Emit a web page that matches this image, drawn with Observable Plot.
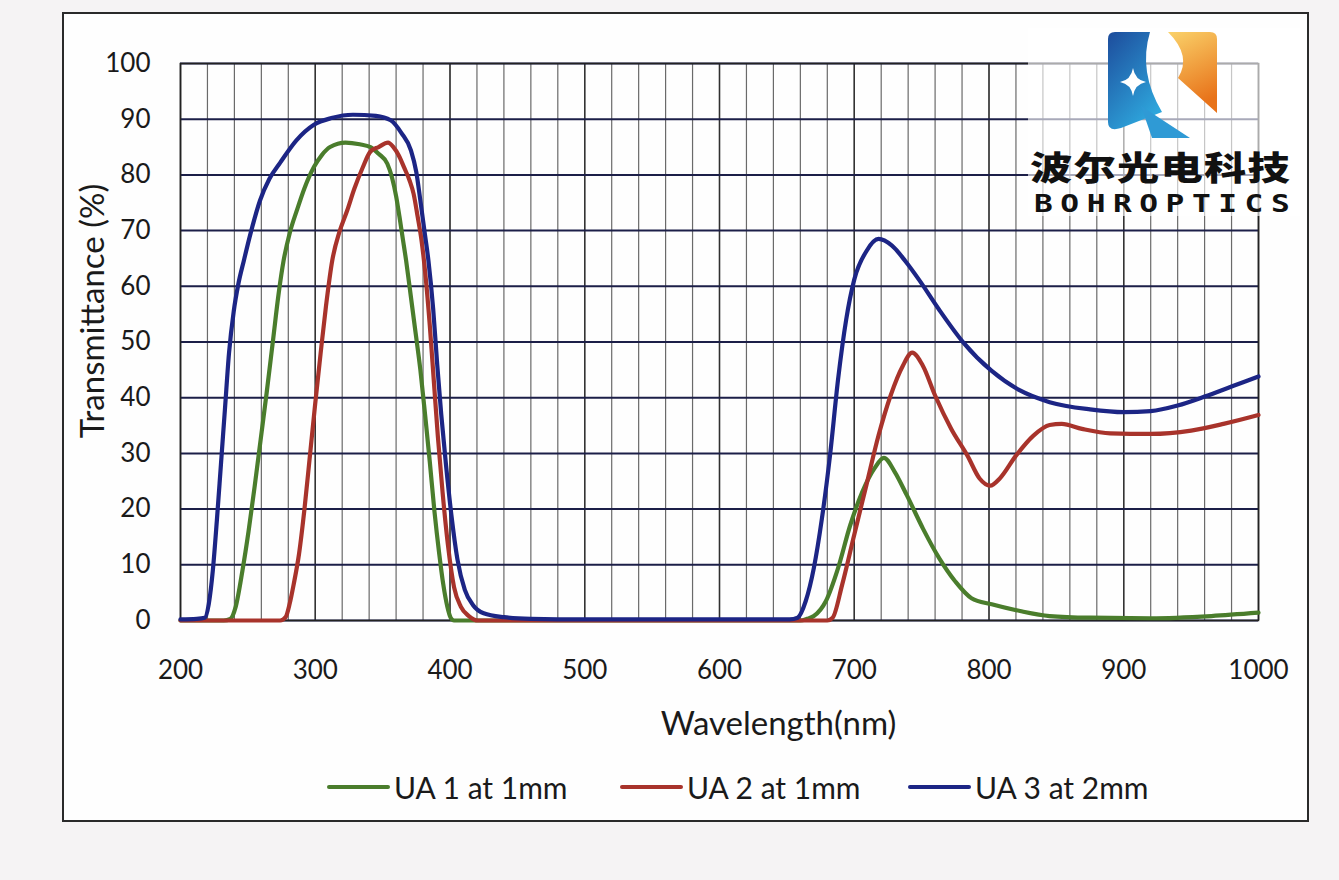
<!DOCTYPE html>
<html>
<head>
<meta charset="utf-8">
<script src="https://cdn.jsdelivr.net/npm/d3@7"></script>
<script src="https://cdn.jsdelivr.net/npm/@observablehq/plot@0.6"></script>
<style>
  html, body { margin: 0; padding: 0; }
  body { width: 1339px; height: 880px; background: #f5f3f4; position: relative; overflow: hidden; font-family: Lato, "Open Sans", sans-serif; }
  #frame { position: absolute; left: 62px; top: 12px; width: 1243px; height: 806px; border: 2px solid #2a2a2a; background: #fefefe; }
  #chart { position: absolute; left: 0; top: 0; }
  #legend { position: absolute; top: 767px; left: 0; width: 1339px; height: 40px; font-size: 30px; color: #1a1a1a; }
  .li { position: absolute; top: 0; display: flex; align-items: center; height: 40px; }
  .li span.sw { display: inline-block; width: 63px; height: 4px; border-radius: 2px; margin-right: 4px; }
  #logoBg { position: absolute; left: 1028px; top: 28px; width: 272px; height: 188px; background: rgba(255,255,255,0.62); }
  #logo { position: absolute; left: 1100px; top: 28px; }
  #cn { position: absolute; left: 1030px; top: 148px; font-family: "Noto Sans CJK SC"; font-weight: 900; font-size: 33px; letter-spacing: 1px; color: #111; line-height: 36px; transform: scale(1.28, 1); transform-origin: left top; white-space: nowrap; }
  #en { position: absolute; left: 1034px; top: 193px; font-family: "DejaVu Sans Mono"; font-weight: bold; font-size: 24px; letter-spacing: 5.8px; color: #111; line-height: 22px; transform: scale(1.3, 1); transform-origin: left top; white-space: nowrap; }
</style>
</head>
<body>
<div id="frame"></div>
<div id="chart"></div>
<div id="logoBg"></div>
<svg id="logo" width="125" height="120" viewBox="1100 28 125 120">
  <defs>
    <linearGradient id="gb" x1="0" y1="0" x2="0.6" y2="1">
      <stop offset="0" stop-color="#1d4c9c"/>
      <stop offset="1" stop-color="#2ea6dc"/>
    </linearGradient>
    <linearGradient id="go" x1="0" y1="0" x2="0.3" y2="1">
      <stop offset="0" stop-color="#fad26a"/>
      <stop offset="1" stop-color="#e8731a"/>
    </linearGradient>
  </defs>
  <path d="M1108,39 Q1108,32 1115,32 L1150,32 Q1138,72 1162,112 L1121,128 Q1108,132 1108,122 Z" fill="url(#gb)"/>
  <path d="M1133,68 Q1135,80 1146,82 Q1135,84 1133,96 Q1131,84 1120,82 Q1131,80 1133,68 Z" fill="#ffffff"/>
  <path d="M1141,106 L1190,138 L1152,138 Z" fill="#2f9ad5"/>
  <path d="M1168,32 L1210,32 Q1217,32 1217,39 L1217,113 L1178,78 Q1192,56 1168,32 Z" fill="url(#go)"/>
</svg>
<div id="cn">波尔光电科技</div>
<div id="en">BOHROPTICS</div>
<div id="legend"></div>
<script>
// ---- data ----
const ua1Nm = [200, 232, 237, 241, 246, 250.5, 255, 259.5, 264, 268.5, 273, 276.5, 281, 286.6, 292, 299, 305, 311, 322.5, 333, 341, 347, 353.5, 357, 360, 362.5, 365, 367.5, 370.5, 374, 378, 381.5, 385, 388.5, 392, 395, 398, 400.5, 403, 420, 500, 600, 660, 665, 670, 679, 688, 697, 706, 715, 722, 730, 739, 751, 763, 775, 787, 802, 823, 845, 875, 920, 965, 1000];
const ua1T  = [0, 0, 0.3, 2.5, 9, 16, 24, 32.5, 41, 50, 59, 64.6, 69.5, 73.8, 77.6, 81.4, 83.6, 85, 85.8, 85.5, 85, 83.8, 82, 79.5, 76.2, 72.5, 68.5, 64.5, 59, 52.5, 45, 37, 28.5, 19.5, 12, 6.5, 2.5, 0.5, 0, 0, 0, 0, 0, 0.3, 0.8, 3.5, 9.4, 17.1, 23.1, 27.3, 29.2, 26.7, 22.5, 16.5, 11.2, 7, 4, 2.9, 1.7, 0.8, 0.5, 0.4, 0.8, 1.4];

const ua2Nm = [200, 274, 278, 281, 284, 288, 292, 296, 300, 304, 308, 312.6, 318, 323.7, 329, 335, 341, 347, 354, 358, 362, 366, 370, 373, 376, 379, 382, 385, 388, 391, 394.5, 398.5, 403, 408, 414, 421, 500, 600, 680, 684, 691, 700, 709, 718, 727, 736, 743, 751, 760, 772, 784, 793, 801, 808, 820, 833, 845, 854, 869, 890, 920, 950, 974, 1000];
const ua2T  = [0, 0, 0.6, 3, 6.5, 12, 20, 29.5, 39, 48, 56.5, 64.6, 69.8, 73.6, 77.5, 81.2, 84.2, 85, 85.8, 85, 83.5, 81.3, 79, 76.6, 72.5, 68, 61.5, 53, 43, 33, 23, 13.5, 6, 2.5, 0.8, 0, 0, 0, 0, 0.5, 6.4, 15.4, 24.3, 33.2, 40.4, 45.7, 48.1, 45.7, 40.4, 34.4, 29.6, 25.5, 24.2, 25.5, 29.6, 33.2, 35.1, 35.3, 34.4, 33.6, 33.5, 34.1, 35.3, 36.9];

const ua3Nm = [200, 212, 218, 221, 224, 227, 230, 233, 236, 239.5, 243, 247, 252, 259, 266, 274, 286, 299, 312, 328, 345, 356, 364, 371, 375, 378, 381, 384, 387.5, 390.5, 393.5, 397, 401, 405.5, 411, 417, 425, 440, 460, 500, 600, 652, 658, 664, 670, 676, 682, 688, 694, 700, 709, 718, 728, 738, 748, 763, 781, 802, 823, 845, 875, 900, 920, 940, 960, 980, 1000];
const ua3T  = [0.2, 0.3, 0.5, 3, 9, 18, 28, 38, 48, 55.5, 60.5, 64.6, 69.5, 75.4, 79.3, 82.2, 86.2, 89, 90.2, 90.8, 90.6, 89.8, 87.5, 84.4, 80.5, 75.4, 70, 64.6, 56, 46, 37, 28, 19, 11, 5.5, 2.8, 1.3, 0.6, 0.3, 0.2, 0.2, 0.2, 0.5, 3.5, 9.4, 18.3, 29.6, 43.3, 54, 61.2, 66.3, 68.5, 67.3, 64.5, 61.2, 55.8, 49.9, 44.8, 41.3, 39.2, 37.9, 37.4, 37.6, 38.6, 40.2, 42, 43.8];

const seriesNames  = ["UA 1 at 1mm", "UA 2 at 1mm", "UA 3 at 2mm"];
const seriesColors = ["#4a7d2c", "#a8332b", "#1c2585"];
const xTicks = [200, 300, 400, 500, 600, 700, 800, 900, 1000];
const xGrid  = d3.range(200, 1001, 20);
const yTicks = [0, 10, 20, 30, 40, 50, 60, 70, 80, 90, 100];
const xTitle = "Wavelength(nm)";
const yTitle = "Transmittance (%)";

const rows = [];
[[ua1Nm, ua1T], [ua2Nm, ua2T], [ua3Nm, ua3T]].forEach(([xs, ys], i) => {
  xs.forEach((x, j) => rows.push({ series: seriesNames[i], nm: x, t: ys[j] }));
});

const chart = Plot.plot({
  width: 1339,
  height: 760,
  marginLeft: 180,
  marginRight: 81,
  marginTop: 63,
  marginBottom: 140,
  style: { fontFamily: "Lato, 'Open Sans', sans-serif", fontSize: "26px", color: "#1a1a1a", background: "transparent" },
  x: { domain: [200, 1000] },
  y: { domain: [0, 100] },
  color: { domain: seriesNames, range: seriesColors },
  marks: [
    Plot.gridX(xGrid, { stroke: "#5a5a5a", strokeOpacity: 0.9, strokeWidth: 1.2 }),
    Plot.gridX(xTicks, { stroke: "#2a2a2a", strokeOpacity: 0.9, strokeWidth: 1.5 }),
    Plot.gridY(yTicks, { stroke: "#1c1f48", strokeOpacity: 1, strokeWidth: 2 }),
    Plot.frame({ stroke: "#222", strokeWidth: 1.5 }),
    Plot.axisX(xTicks, { tickSize: 0, tickPadding: 40, label: null, fontSize: 26, tickFormat: d => String(d) }),
    Plot.axisY(yTicks, { tickSize: 0, tickPadding: 30, label: null, fontSize: 26, tickFormat: d => String(d) }),
    Plot.text([xTitle], { frameAnchor: "bottom", lineAnchor: "middle", textAnchor: "middle", dx: 59, dy: 104, fontSize: 33, fill: "#1a1a1a" }),
    Plot.text([yTitle], { frameAnchor: "left", lineAnchor: "middle", textAnchor: "middle", rotate: -90, dx: -87, dy: -31, fontSize: 33, fill: "#1a1a1a" }),
    Plot.line(rows, { x: "nm", y: "t", z: "series", stroke: "series", strokeWidth: 4.2, curve: "monotone-x" })
  ]
});
document.getElementById("chart").appendChild(chart);

// legend
const legend = document.getElementById("legend");
const legendLeft = [327, 620, 908];
seriesNames.forEach((name, i) => {
  const d = document.createElement("div");
  d.className = "li";
  d.style.left = legendLeft[i] + "px";
  d.innerHTML = `<span class="sw" style="background:${seriesColors[i]}"></span><span>${name}</span>`;
  legend.appendChild(d);
});
</script>
</body>
</html>
